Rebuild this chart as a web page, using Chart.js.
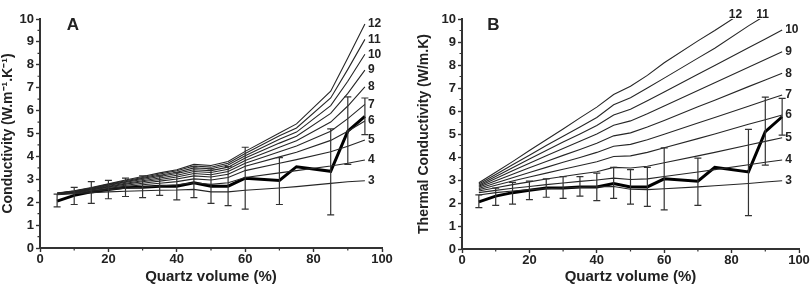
<!DOCTYPE html>
<html>
<head>
<meta charset="utf-8">
<script src="https://cdn.jsdelivr.net/npm/chart.js@4.4.0/dist/chart.umd.min.js"></script>
<style>
  html, body { margin: 0; padding: 0; background: #fff; }
  #boxA { position: absolute; left: 0; top: 0; width: 405px; height: 287px; }
  #boxB { position: absolute; left: 405px; top: 0; width: 407px; height: 287px; }
</style>
</head>
<body>
<div id="boxA"><canvas id="chartA"></canvas></div>
<div id="boxB"><canvas id="chartB"></canvas></div>
<script>
// quartz volume (%) where measurements / models are given
const quartzVol = [5, 10, 15, 20, 25, 30, 35, 40, 45, 50, 55, 60, 70, 75, 85, 90, 95];

// measured conductivity (thick line) with error bars
const measured = [2.05, 2.3, 2.45, 2.55, 2.65, 2.65, 2.7, 2.7, 2.85, 2.7, 2.7, 3.05, 2.95, 3.55, 3.35, 5.1, 5.75];
const errHigh  = [2.35, 2.65, 2.9, 2.95, 3.05, 3.15, 3.15, 3.3, 3.55, 3.45, 3.55, 4.4, 3.95, null, 5.2, 6.6, 6.55];
const errLow   = [1.8, 1.9, 1.95, 2.15, 2.25, 2.2, 2.3, 2.1, 2.2, 1.95, 1.85, 1.7, 1.9, null, 1.45, 3.65, 4.95];

const lineTags = ['3', '4', '5', '6', '7', '8', '9', '10', '11', '12'];

// panel A model curves (tags 3..12)
const modelA3  = [2.33, 2.37, 2.42, 2.45, 2.48, 2.50, 2.52, 2.53, 2.56, 2.45, 2.45, 2.52, 2.62, 2.68, 2.82, 2.89, 2.94];
const modelA4  = [2.34, 2.40, 2.47, 2.55, 2.61, 2.66, 2.71, 2.76, 2.85, 2.78, 2.85, 3.08, 3.28, 3.38, 3.58, 3.70, 3.84];
const modelA5  = [2.35, 2.42, 2.50, 2.60, 2.68, 2.76, 2.83, 2.90, 3.02, 2.97, 3.08, 3.38, 3.70, 3.86, 4.20, 4.44, 4.72];
const modelA6  = [2.36, 2.43, 2.53, 2.64, 2.74, 2.83, 2.92, 3.01, 3.15, 3.10, 3.22, 3.57, 3.98, 4.18, 4.70, 5.10, 5.55];
const modelA7  = [2.37, 2.45, 2.55, 2.67, 2.79, 2.89, 2.99, 3.10, 3.25, 3.20, 3.34, 3.70, 4.20, 4.45, 5.10, 5.65, 6.27];
const modelA8  = [2.38, 2.46, 2.57, 2.70, 2.83, 2.94, 3.06, 3.18, 3.34, 3.30, 3.44, 3.82, 4.40, 4.68, 5.50, 6.20, 7.04];
const modelA9  = [2.38, 2.47, 2.59, 2.73, 2.87, 2.99, 3.12, 3.25, 3.42, 3.38, 3.53, 3.93, 4.58, 4.88, 5.88, 6.75, 7.77];
const modelA10 = [2.39, 2.48, 2.61, 2.75, 2.90, 3.04, 3.18, 3.31, 3.50, 3.46, 3.62, 4.03, 4.75, 5.06, 6.22, 7.28, 8.46];
const modelA11 = [2.39, 2.49, 2.62, 2.78, 2.94, 3.08, 3.23, 3.37, 3.58, 3.53, 3.70, 4.13, 4.90, 5.24, 6.55, 7.80, 9.11];
const modelA12 = [2.40, 2.50, 2.64, 2.80, 2.97, 3.12, 3.28, 3.42, 3.65, 3.60, 3.78, 4.22, 5.02, 5.42, 6.85, 8.30, 9.78];

// panel B model curves (tags 3..12)
const modelB3  = [2.35, 2.45, 2.52, 2.58, 2.62, 2.65, 2.68, 2.70, 2.72, 2.60, 2.58, 2.62, 2.70, 2.75, 2.85, 2.91, 2.97];
const modelB4  = [2.45, 2.55, 2.64, 2.72, 2.80, 2.87, 2.94, 3.00, 3.08, 3.02, 3.05, 3.15, 3.35, 3.45, 3.66, 3.77, 3.87];
const modelB5  = [2.52, 2.66, 2.80, 2.92, 3.04, 3.15, 3.26, 3.36, 3.55, 3.52, 3.60, 3.75, 4.05, 4.20, 4.52, 4.68, 4.84];
const modelB6  = [2.58, 2.77, 2.96, 3.13, 3.30, 3.47, 3.63, 3.79, 4.02, 4.05, 4.20, 4.40, 4.80, 5.00, 5.42, 5.62, 5.83];
const modelB7  = [2.63, 2.87, 3.10, 3.33, 3.55, 3.77, 3.98, 4.20, 4.47, 4.55, 4.75, 4.99, 5.48, 5.72, 6.21, 6.46, 6.70];
const modelB8  = [2.68, 2.97, 3.25, 3.53, 3.80, 4.07, 4.33, 4.60, 4.92, 5.05, 5.30, 5.59, 6.18, 6.47, 7.06, 7.35, 7.64];
const modelB9  = [2.73, 3.07, 3.40, 3.73, 4.05, 4.37, 4.68, 5.00, 5.38, 5.57, 5.88, 6.22, 6.89, 7.23, 7.90, 8.24, 8.58];
const modelB10 = [2.77, 3.15, 3.53, 3.91, 4.28, 4.65, 5.00, 5.37, 5.83, 6.08, 6.45, 6.83, 7.60, 7.98, 8.75, 9.13, 9.52];
const modelB11 = [2.83, 3.24, 3.66, 4.08, 4.50, 4.90, 5.30, 5.72, 6.27, 6.58, 7.00, 7.43, 8.30, 8.73, 9.70, 10.15, null];
const modelB12 = [2.88, 3.34, 3.80, 4.28, 4.75, 5.22, 5.70, 6.17, 6.72, 7.08, 7.55, 8.10, 9.05, 9.50, 10.45, null, null];

const FONT = "'Liberation Sans', Arial, Helvetica, sans-serif";
Chart.defaults.font.family = FONT;
Chart.defaults.color = '#222';

function toPoints(vals) {
    return quartzVol.map((x, i) => ({ x: x, y: vals[i] }));
}

function buildDatasets(models) {
    const sets = models.map((vals, i) => ({
        tag: lineTags[i],
        data: toPoints(vals),
        borderColor: '#262626',
        borderWidth: 1.1,
        pointRadius: 0,
        tension: 0,
        fill: false
    }));
    sets.push({
        data: toPoints(measured),
        borderColor: '#000',
        borderWidth: 3,
        pointRadius: 0,
        tension: 0,
        fill: false
    });
    return sets;
}

// vertical error bars with caps, drawn through the chart scales
const errorBars = {
    id: 'errorBars',
    afterDatasetsDraw(chart) {
        const { ctx, scales: { x, y } } = chart;
        ctx.save();
        ctx.strokeStyle = '#333';
        ctx.lineWidth = 1.2;
        ctx.beginPath();
        quartzVol.forEach((q, i) => {
            if (errLow[i] == null) return;
            const px = x.getPixelForValue(q);
            const top = y.getPixelForValue(errHigh[i]);
            const bot = y.getPixelForValue(errLow[i]);
            ctx.moveTo(px, top); ctx.lineTo(px, bot);
            ctx.moveTo(px - 3.5, top); ctx.lineTo(px + 3.5, top);
            ctx.moveTo(px - 3.5, bot); ctx.lineTo(px + 3.5, bot);
        });
        ctx.stroke();
        ctx.restore();
    }
};

// numbers at the end of each model curve
const endLabels = {
    id: 'endLabels',
    afterDatasetsDraw(chart) {
        const { ctx, scales: { x, y }, chartArea } = chart;
        ctx.save();
        ctx.font = 'bold 12px ' + FONT;
        ctx.fillStyle = '#222';
        ctx.textBaseline = 'middle';
        chart.data.datasets.forEach(ds => {
            if (!ds.tag) return;
            const pts = ds.data.filter(p => p.y != null);
            const k = pts.findIndex(p => p.y > y.max);
            if (k > 0) {
                const a = pts[k - 1], b = pts[k];
                const cx = a.x + (y.max - a.y) * (b.x - a.x) / (b.y - a.y);
                ctx.textAlign = 'center';
                ctx.fillText(ds.tag, x.getPixelForValue(cx) + 3, chartArea.top - 4);
            } else {
                const last = pts[pts.length - 1];
                ctx.textAlign = 'left';
                ctx.fillText(ds.tag, x.getPixelForValue(last.x) + 3, y.getPixelForValue(last.y));
            }
        });
        ctx.restore();
    }
};

// short ticks halfway between the labelled ones
const minorTicks = {
    id: 'minorTicks',
    afterDraw(chart) {
        const { ctx, scales: { x, y } } = chart;
        ctx.save();
        ctx.strokeStyle = '#333';
        ctx.lineWidth = 1.2;
        ctx.beginPath();
        for (let i = 0; i < y.ticks.length - 1; i++) {
            const py = y.getPixelForValue((y.ticks[i].value + y.ticks[i + 1].value) / 2);
            ctx.moveTo(y.right - 2.5, py); ctx.lineTo(y.right, py);
        }
        for (let i = 0; i < x.ticks.length - 1; i++) {
            const px = x.getPixelForValue((x.ticks[i].value + x.ticks[i + 1].value) / 2);
            ctx.moveTo(px, x.top); ctx.lineTo(px, x.top + 2.5);
        }
        ctx.stroke();
        ctx.restore();
    }
};

// panel letter, placed in data coordinates
const panelLetter = {
    id: 'panelLetter',
    afterDraw(chart, args, opts) {
        const { ctx, scales: { x, y } } = chart;
        ctx.save();
        ctx.font = 'bold 17px ' + FONT;
        ctx.fillStyle = '#222';
        ctx.textAlign = 'center';
        ctx.textBaseline = 'middle';
        ctx.fillText(opts.text, x.getPixelForValue(opts.x), y.getPixelForValue(opts.y));
        ctx.restore();
    }
};

function makeOptions(cfg) {
    const axisGrid = { drawOnChartArea: false, drawTicks: true, tickLength: 4, tickWidth: 1.4, tickColor: '#333' };
    const axisBorder = { display: true, color: '#333', width: 2 };
    return {
        responsive: true,
        maintainAspectRatio: false,
        animation: false,
        layout: { padding: { left: 0, right: cfg.padRight, top: cfg.padTop, bottom: 0 } },
        plugins: {
            legend: { display: false },
            tooltip: { enabled: false },
            panelLetter: { text: cfg.letter, x: cfg.letterX, y: 9.72 }
        },
        scales: {
            x: {
                type: 'linear', min: 0, max: 100,
                ticks: { stepSize: 20, padding: 0, maxRotation: 0, color: '#222', font: { size: 13, weight: 'bold' } },
                grid: axisGrid,
                border: axisBorder,
                title: { display: true, text: 'Quartz volume (%)', color: '#222', font: { size: 15, weight: 'bold' }, padding: { top: 0, bottom: 1 } },
                afterFit: s => { s.height = cfg.xHeight; }
            },
            y: {
                min: 0, max: 10,
                ticks: { stepSize: 1, padding: 2, color: '#222', font: { size: 13, weight: 'bold' } },
                grid: axisGrid,
                border: axisBorder,
                title: { display: true, text: cfg.yTitle, color: '#222', font: { size: 14, weight: 'bold' }, padding: { top: cfg.yTitlePad, bottom: 0 } },
                afterFit: s => { s.width = cfg.yWidth; }
            }
        }
    };
}

const plugins = [errorBars, endLabels, minorTicks, panelLetter];

new Chart(document.getElementById('chartA').getContext('2d'), {
    type: 'line',
    data: { datasets: buildDatasets([modelA3, modelA4, modelA5, modelA6, modelA7, modelA8, modelA9, modelA10, modelA11, modelA12]) },
    options: makeOptions({
        yTitle: 'Conductivity (W.m\u207B\u00B9.K\u207B\u00B9)', yTitlePad: 0, yWidth: 40, xHeight: 39,
        padRight: 23, padTop: 19, letter: 'A', letterX: 9.6
    }),
    plugins: plugins
});

new Chart(document.getElementById('chartB').getContext('2d'), {
    type: 'line',
    data: { datasets: buildDatasets([modelB3, modelB4, modelB5, modelB6, modelB7, modelB8, modelB9, modelB10, modelB11, modelB12]) },
    options: makeOptions({
        yTitle: 'Thermal Conductivity (W/m.K)', yTitlePad: 11, yWidth: 57, xHeight: 38,
        padRight: 13, padTop: 19, letter: 'B', letterX: 9.3
    }),
    plugins: plugins
});
</script>
</body>
</html>
